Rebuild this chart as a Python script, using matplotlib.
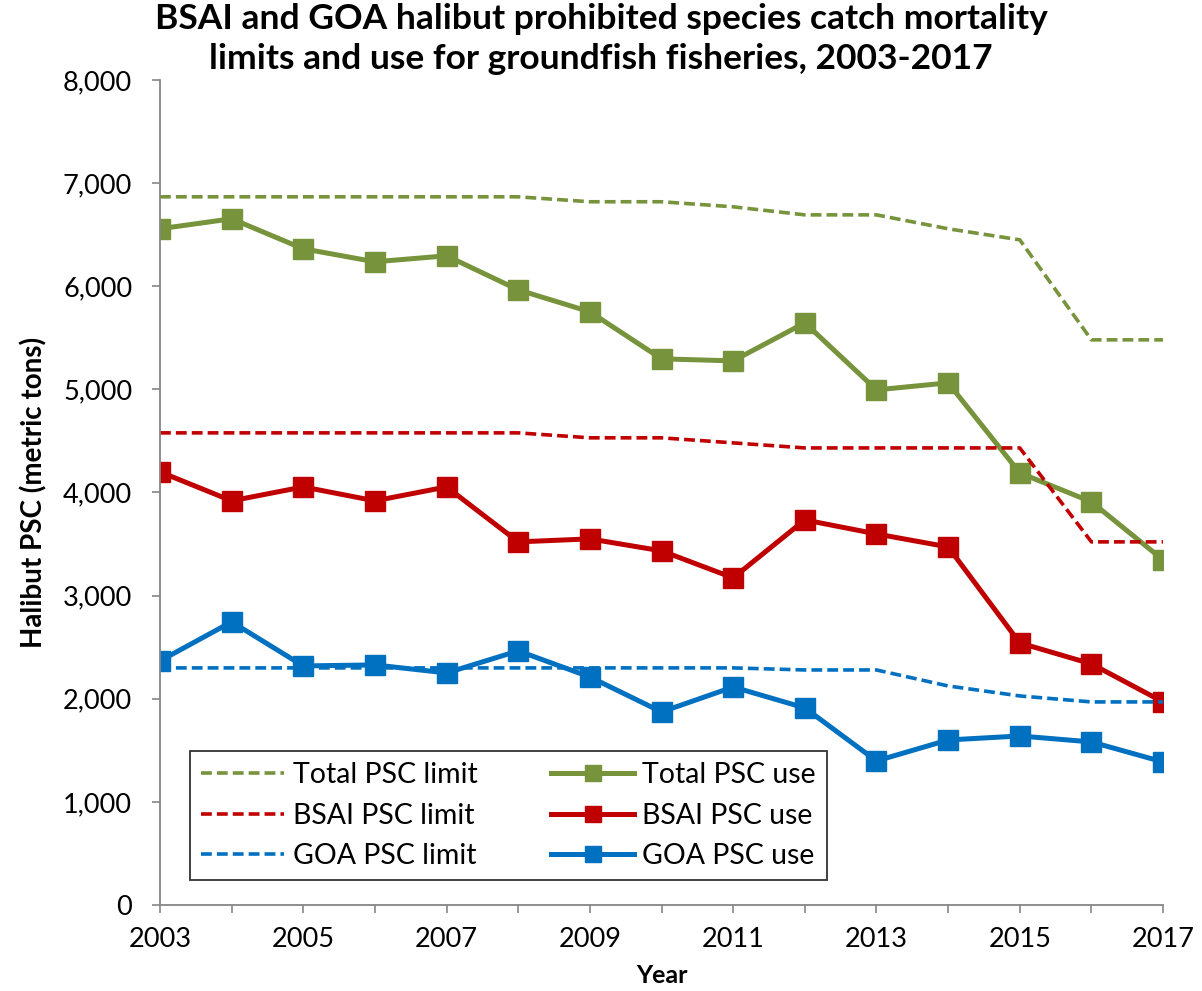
import matplotlib.pyplot as plt
from matplotlib.ticker import FuncFormatter

plt.rcParams['font.family'] = ['Lato', 'DejaVu Sans']

years = list(range(2003, 2018))

total_limit = [6867, 6867, 6867, 6867, 6867, 6867, 6819, 6819, 6770, 6692,
               6692, 6557, 6450, 5480, 5480]
total_use = [6557, 6654, 6363, 6237, 6295, 5965, 5752, 5296, 5276, 5645,
             4995, 5063, 4190, 3909, 3346]
bsai_limit = [4578, 4578, 4578, 4578, 4578, 4578, 4530, 4530, 4481, 4432,
              4432, 4432, 4432, 3521, 3521]
bsai_use = [4200, 3919, 4054, 3919, 4054, 3521, 3550, 3434, 3172, 3734,
            3598, 3472, 2541, 2338, 1969]
goa_limit = [2299, 2299, 2299, 2299, 2299, 2299, 2299, 2299, 2299, 2279,
             2279, 2124, 2027, 1969, 1969]
goa_use = [2367, 2745, 2318, 2328, 2250, 2464, 2211, 1872, 2114, 1911,
           1397, 1600, 1639, 1581, 1387]

GREEN = "#77933C"
RED = "#C00000"
BLUE = "#0070C0"
AXIS_GRAY = "#868686"

fig = plt.figure(figsize=(12.02, 9.91), dpi=100)
ax = fig.add_axes([0.1331, 0.0868, 0.8345, 0.8325])

limit_kw = dict(linestyle=(0, (3.0, 1.4)), linewidth=2.6)
use_kw = dict(marker="s", markersize=14, linewidth=3.6)

ax.plot(years, total_limit, color=GREEN, label="Total PSC limit", **limit_kw)
ax.plot(years, total_use, color=GREEN, label="Total PSC use", **use_kw)
ax.plot(years, bsai_limit, color=RED, label="BSAI PSC limit", **limit_kw)
ax.plot(years, bsai_use, color=RED, label="BSAI PSC use", **use_kw)
ax.plot(years, goa_limit, color=BLUE, label="GOA PSC limit", **limit_kw)
ax.plot(years, goa_use, color=BLUE, label="GOA PSC use", **use_kw)

ax.set_xlim(2003, 2017)
ax.set_ylim(0, 8000)
ax.set_xticks(years)
ax.set_xticklabels([str(y) if y % 2 == 1 else "" for y in years])
ax.set_yticks(range(0, 8001, 1000))
ax.yaxis.set_major_formatter(FuncFormatter(lambda v, _: f"{int(v):,}"))
ax.tick_params(axis="both", labelsize=19.5, direction="out", length=6,
               width=1.2, color=AXIS_GRAY)
ax.tick_params(axis="x", pad=10)
ax.tick_params(axis="y", pad=14)

for side in ("top", "right"):
    ax.spines[side].set_visible(False)
for side in ("left", "bottom"):
    ax.spines[side].set_color(AXIS_GRAY)
    ax.spines[side].set_linewidth(1.3)

ax.set_xlabel("Year", fontsize=18, fontweight="bold")
ax.xaxis.set_label_coords(0.5, -0.072)
ax.set_ylabel("Halibut PSC (metric tons)", fontsize=20, fontweight="bold")
ax.yaxis.set_label_coords(-0.112, 0.5)

handles, labels = ax.get_legend_handles_labels()
order = [0, 2, 4, 1, 3, 5]
leg = ax.legend([handles[i] for i in order], [labels[i] for i in order],
                ncol=2, loc="lower left", bbox_to_anchor=(0.03, 0.03),
                fontsize=20.5, frameon=True, fancybox=False, edgecolor="black",
                handlelength=2.9, handletextpad=0.3, columnspacing=2.6,
                labelspacing=0.5, borderpad=0.4, borderaxespad=0,
                markerscale=0.85)
leg.get_frame().set_linewidth(1.3)

fig.suptitle("BSAI and GOA halibut prohibited species catch mortality\n"
             "limits and use for groundfish fisheries, 2003-2017",
             x=0.5, y=0.997, va="top", fontsize=25.5, fontweight="bold",
             linespacing=1.3)

fig.savefig("out.png", dpi=100)
